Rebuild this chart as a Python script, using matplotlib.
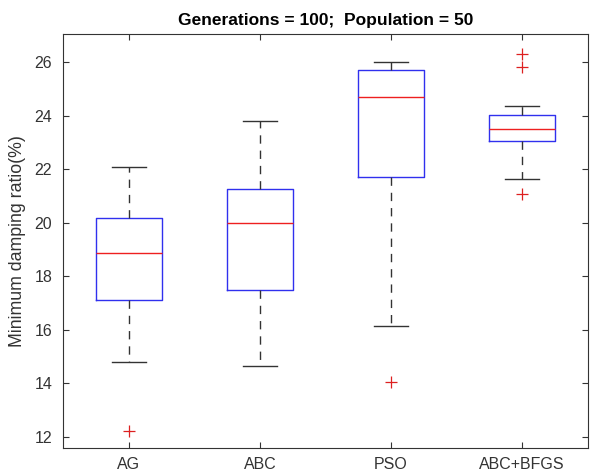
import matplotlib
matplotlib.use("Agg")
import matplotlib.pyplot as plt

# values
methods = ["AG", "ABC", "PSO", "ABC+BFGS"]
medians = [18.88, 19.99, 24.72, 23.49]
q1 = [17.12, 17.48, 21.70, 23.05]
q3 = [20.18, 21.26, 25.70, 24.04]
whis_lo = [14.80, 14.64, 16.13, 21.63]
whis_hi = [22.08, 23.80, 26.00, 24.36]
outliers = [[12.21], [], [14.06], [26.31, 25.84, 21.08]]

plt.rcParams["font.family"] = ["Liberation Sans", "DejaVu Sans"]

stats = []
for i in range(len(methods)):
    stats.append({
        "label": methods[i],
        "med": medians[i],
        "q1": q1[i],
        "q3": q3[i],
        "whislo": whis_lo[i],
        "whishi": whis_hi[i],
        "fliers": outliers[i],
    })

fig = plt.figure(figsize=(5.9, 4.75), dpi=100)
ax = fig.add_axes([0.1073, 0.0562, 0.8888, 0.8728])

ax.bxp(stats, widths=0.5,
       boxprops=dict(color="#3030ee", linewidth=1.0),
       medianprops=dict(color="#ee2020", linewidth=1.0),
       whiskerprops=dict(color="#333333", linewidth=1.0, linestyle=(0, (6, 5))),
       capprops=dict(color="#333333", linewidth=1.0),
       flierprops=dict(marker="+", markeredgecolor="#dd2020", markersize=8,
                       markeredgewidth=0.9, linestyle="none"),
       capwidths=0.26)

ax.set_xlim(0.5, 4.5)
ax.set_ylim(11.57, 27.07)
ax.set_yticks(range(12, 27, 2))
ax.tick_params(direction="in", top=True, right=True, labelsize=11.5,
               colors="#333333", length=4)
ax.tick_params(axis="x", pad=6)
ax.tick_params(axis="y", pad=8)
for s in ax.spines.values():
    s.set_color("#333333")
    s.set_linewidth(0.8)

ax.set_ylabel("Minimum damping ratio(%)", fontsize=12.8, color="#333333",
              labelpad=6)
ax.set_title("Generations = 100;  Population = 50", fontsize=12.5,
             fontweight="bold", pad=6)

fig.savefig("out.png", dpi=100)
